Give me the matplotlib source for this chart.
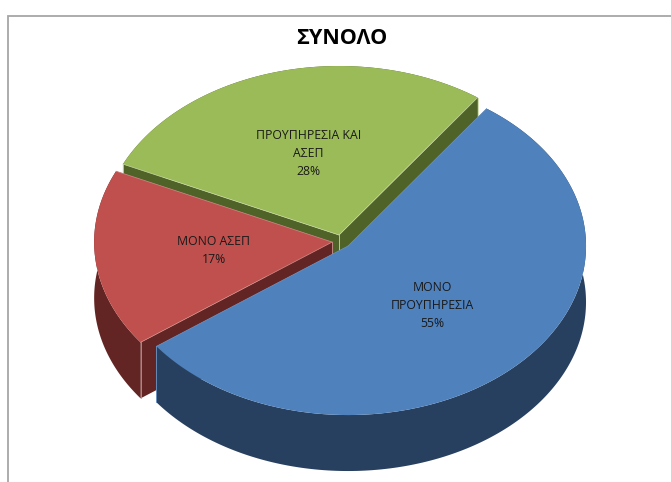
import numpy as np
import matplotlib
matplotlib.use('Agg')
import matplotlib.pyplot as plt
from matplotlib.patches import Polygon

plt.rcParams['font.family'] = ['Open Sans', 'DejaVu Sans']

TITLE = 'ΣΥΝΟΛΟ'
labels = ['ΜΟΝΟ\nΠΡΟΥΠΗΡΕΣΙΑ', 'ΜΟΝΟ ΑΣΕΠ', 'ΠΡΟΥΠΗΡΕΣΙΑ ΚΑΙ\nΑΣΕΠ']
percents = [55, 17, 28]
top_colors = ['#4F81BD', '#C0504D', '#9BBB59']
side_colors = ['#284060', '#632523', '#4F6228']
edge_colors = ['#6F97C8', '#D08F8D', '#C9D9A5']

W, H = 671, 482
CX, CY = 341.4, 241.4
RX, RY = 238, 169
EXPLODE = 9.3
DEPTH = 56
START = 35.6


def ellipse_xy(cx, cy, deg, scale=1.0):
    a = np.radians(deg)
    return cx + RX * scale * np.sin(a), cy - RY * scale * np.cos(a)


fig = plt.figure(figsize=(W / 100, H / 100), dpi=100)
ax = fig.add_axes([0, 0, 1, 1])
ax.set_xlim(0, W)
ax.set_ylim(H, 0)
ax.axis('off')

# chart frame, cropped on the right and bottom
ax.plot([8, 8, W], [H, 16, 16], color='#A6A6A6', lw=1.3, solid_joinstyle='miter', zorder=0)

# work out the slice angles first so they can be painted back to front
spans = []
angle = START
for p in percents:
    spans.append((angle, angle + p * 3.6))
    angle += p * 3.6

for i in [2, 1, 0]:
    a0, a1 = spans[i]
    mid = (a0 + a1) / 2
    cx = CX + EXPLODE * np.sin(np.radians(mid))
    cy = CY - EXPLODE * np.cos(np.radians(mid)) * RY / RX
    t = np.linspace(a0, a1, 200)
    ax_x, ax_y = ellipse_xy(cx, cy, t)
    z = 2 + (2 - i) * 2

    # radial cut faces and the outer wall
    for ex, ey in [(ax_x[0], ax_y[0]), (ax_x[-1], ax_y[-1])]:
        face = [(cx, cy), (ex, ey), (ex, ey + DEPTH), (cx, cy + DEPTH)]
        ax.add_patch(Polygon(face, closed=True, fc=side_colors[i], ec='none', zorder=z))
    wall = np.column_stack([np.r_[ax_x, ax_x[::-1]], np.r_[ax_y, ax_y[::-1] + DEPTH]])
    ax.add_patch(Polygon(wall, closed=True, fc=side_colors[i], ec='none', zorder=z))

    # light seams on the vertical corners
    ax.plot([cx, cx], [cy, cy + DEPTH], color=edge_colors[i], lw=0.6, zorder=z)
    ax.plot([ax_x[-1], ax_x[-1]], [ax_y[-1], ax_y[-1] + DEPTH], color=edge_colors[i], lw=0.6, zorder=z)
    ax.plot([ax_x[0], ax_x[0]], [ax_y[0], ax_y[0] + DEPTH], color=edge_colors[i], lw=0.6, zorder=z)

    top = np.column_stack([np.r_[cx, ax_x], np.r_[cy, ax_y]])
    ax.add_patch(Polygon(top, closed=True, fc=top_colors[i], ec='none', zorder=z + 1))
    ax.plot([cx, ax_x[0]], [cy, ax_y[0]], color=edge_colors[i], lw=0.5, zorder=z + 1)
    ax.plot([cx, ax_x[-1]], [cy, ax_y[-1]], color=edge_colors[i], lw=0.5, zorder=z + 1)

    lx, ly = ellipse_xy(cx, cy, mid, 0.5)
    ax.text(lx, ly, f'{labels[i]}\n{percents[i]}%', ha='center', va='center', fontsize=8.8,
            color='#1A1A1A', linespacing=1.5, zorder=20)

ax.text(342, 38, TITLE, ha='center', va='center', fontsize=15.5, fontweight='bold', color='black', zorder=20)

fig.savefig('out.png', dpi=100)
